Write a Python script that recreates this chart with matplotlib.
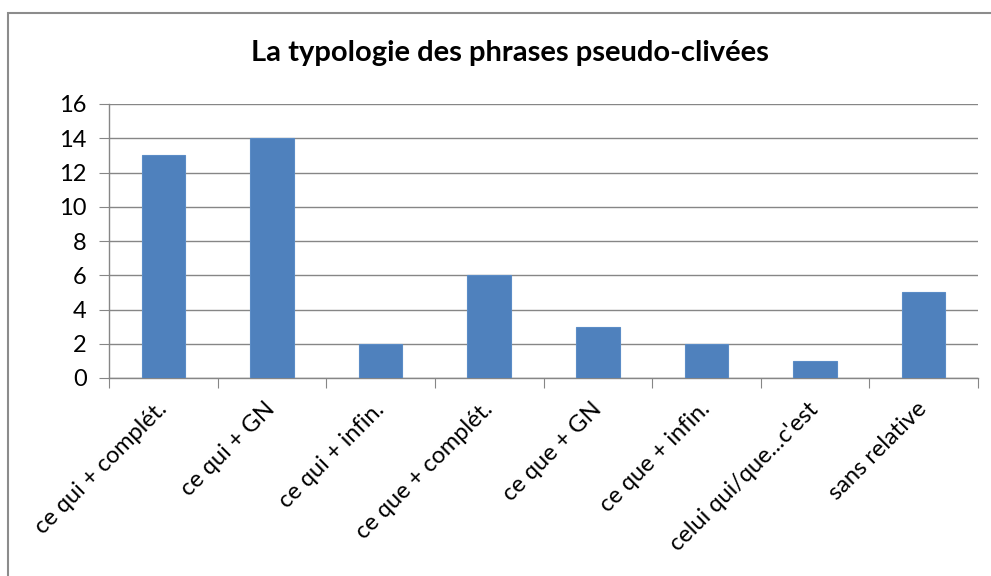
import matplotlib

matplotlib.use("Agg")
import matplotlib.pyplot as plt
from matplotlib.patches import Rectangle

categories = [
    "ce qui + complét.",
    "ce qui + GN",
    "ce qui + infin.",
    "ce que + complét.",
    "ce que + GN",
    "ce que + infin.",
    "celui qui/que...c'est",
    "sans relative",
]
counts = [13, 14, 2, 6, 3, 2, 1, 5]
y_ticks = [0, 2, 4, 6, 8, 10, 12, 14, 16]

plt.rcParams["font.family"] = ["Lato", "DejaVu Sans"]

W, H = 991, 576
fig = plt.figure(figsize=(W / 100, H / 100), dpi=100)
ax = fig.add_axes([109 / W, 1 - 378 / H, (978 - 109) / W, (378 - 104) / H])

# chart-area border: only left and top edges fall inside the picture
fig.patches.append(Rectangle((8 / W, -0.1), 1.0, 1 - 13 / H + 0.1,
                             transform=fig.transFigure, fill=False,
                             edgecolor="#8c8c8c", linewidth=1.5))

grid_color = "#868686"
positions = range(len(categories))
ax.bar(positions, counts, width=0.4, color="#4F81BD", edgecolor="#5b8cc6", linewidth=0.8, zorder=3)

ax.set_xlim(-0.5, len(categories) - 0.5)
ax.set_ylim(0, 16)
ax.set_yticks(y_ticks)
ax.set_yticklabels([str(v) for v in y_ticks], fontsize=17)
ax.yaxis.grid(True, color=grid_color, linewidth=1.0, zorder=0)
ax.tick_params(axis="y", length=7, color=grid_color, pad=9)

# category ticks sit between bars
ax.set_xticks([p - 0.5 for p in range(len(categories) + 1)])
ax.set_xticklabels([])
ax.tick_params(axis="x", which="major", length=7, color=grid_color)
ax.set_xticks(list(positions), minor=True)
ax.set_xticklabels(categories, minor=True, rotation=45, ha="right", va="center",
                   rotation_mode="anchor", fontsize=17)
ax.tick_params(axis="x", which="minor", length=0, pad=20)

for side in ("top", "right"):
    ax.spines[side].set_visible(False)
for side in ("left", "bottom"):
    ax.spines[side].set_color(grid_color)
    ax.spines[side].set_linewidth(1.0)

fig.text(510 / W, 1 - 53 / H, "La typologie des phrases pseudo-clivées",
         ha="center", va="center", fontsize=21, fontweight="bold")

fig.savefig("out.png", dpi=100)
